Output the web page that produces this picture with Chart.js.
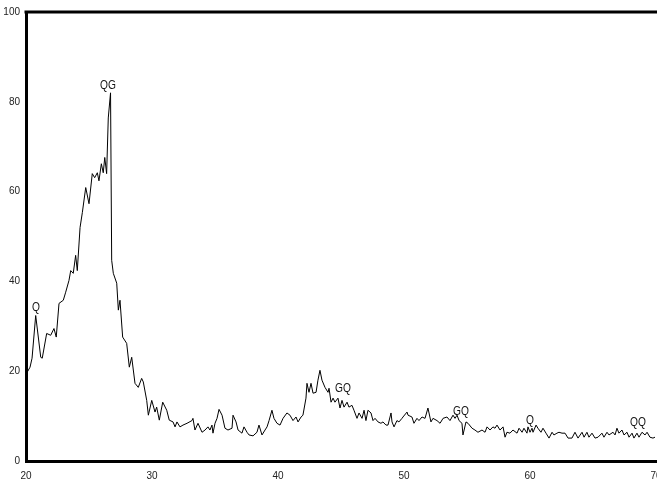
<!DOCTYPE html>
<html>
<head>
<meta charset="utf-8">
<script src="https://cdn.jsdelivr.net/npm/chart.js@4"></script>
<style>
    html, body { margin: 0; padding: 0; background: #fff; overflow: hidden; }
    #wrap { width: 672px; height: 481px; }
</style>
</head>
<body>
<div id="wrap"><canvas id="xrdChart" width="672" height="481"></canvas></div>
<script>
// 2-theta (deg) and intensity
const twoTheta = [
    20.06, 20.32, 20.48, 20.77, 21.17, 21.29, 21.64, 21.96, 22.22, 22.40,
    22.62, 22.96, 23.15, 23.41, 23.55, 23.75, 23.94, 24.07, 24.29, 24.47,
    24.74, 25.00, 25.26, 25.45, 25.66, 25.79, 25.98, 26.13, 26.25, 26.40,
    26.53, 26.71, 26.80, 26.93, 27.20, 27.33, 27.46, 27.67, 27.99, 28.20,
    28.39, 28.65, 28.91, 29.18, 29.31, 29.58, 29.71, 29.98, 30.24, 30.37,
    30.58, 30.85, 31.17, 31.37, 31.67, 31.83, 31.98, 32.22, 32.46, 32.78,
    33.17, 33.25, 33.41, 33.65, 33.97, 34.21, 34.44, 34.60, 34.76, 34.84,
    35.00, 35.16, 35.32, 35.56, 35.79, 36.03, 36.35, 36.43, 36.67, 36.83,
    37.14, 37.30, 37.54, 37.70, 38.02, 38.33, 38.49, 38.73, 38.97, 39.13,
    39.29, 39.52, 39.68, 39.92, 40.16, 40.40, 40.71, 40.95, 41.19, 41.43,
    41.59, 41.83, 41.98, 42.22, 42.30, 42.46, 42.62, 42.78, 43.02, 43.17,
    43.33, 43.49, 43.73, 43.97, 44.05, 44.21, 44.37, 44.52, 44.76, 44.92,
    45.08, 45.24, 45.48, 45.63, 45.87, 46.03, 46.27, 46.43, 46.67, 46.83,
    46.98, 47.14, 47.38, 47.54, 47.70, 47.94, 48.17, 48.33, 48.57, 48.73,
    48.97, 49.05, 49.21, 49.44, 49.60, 49.84, 49.92, 50.24, 50.32, 50.63,
    50.79, 51.03, 51.19, 51.43, 51.67, 51.90, 52.14, 52.30, 52.62, 52.86,
    53.10, 53.41, 53.65, 53.89, 54.05, 54.21, 54.37, 54.60, 54.68, 54.92,
    55.08, 55.40, 55.63, 55.87, 56.19, 56.43, 56.59, 56.83, 57.06, 57.22,
    57.38, 57.62, 57.86, 58.02, 58.17, 58.41, 58.65, 58.97, 59.13, 59.37,
    59.52, 59.76, 59.84, 60.00, 60.16, 60.24, 60.48, 60.63, 60.87, 61.03,
    61.27, 61.51, 61.75, 61.90, 62.14, 62.30, 62.54, 62.78, 63.02, 63.33,
    63.57, 63.81, 64.13, 64.29, 64.52, 64.68, 64.92, 65.16, 65.40, 65.71,
    65.87, 66.11, 66.27, 66.59, 66.75, 66.90, 67.06, 67.30, 67.46, 67.70,
    67.86, 68.10, 68.25, 68.49, 68.65, 68.89, 69.13, 69.29, 69.52, 69.76,
    69.92
];
const intensity = [
    19.6, 20.9, 22.9, 32.4, 23.1, 22.9, 28.4, 28.0, 29.5, 27.6,
    35.1, 35.8, 37.6, 40.2, 42.4, 41.8, 45.8, 42.4, 52.0, 55.3,
    60.9, 57.3, 64.0, 63.1, 64.2, 62.4, 66.2, 64.2, 67.6, 64.0,
    76.4, 82.0, 44.7, 41.8, 39.6, 33.6, 35.8, 27.6, 26.2, 20.9,
    23.1, 17.3, 16.4, 18.4, 17.6, 13.5, 10.2, 13.5, 10.9, 12.0,
    9.1, 13.1, 11.3, 9.1, 8.7, 7.6, 8.7, 7.6, 8.0, 8.4,
    9.0, 9.5, 6.9, 8.4, 6.4, 6.9, 7.6, 6.9, 8.0, 6.2,
    8.4, 9.5, 11.5, 10.2, 7.3, 6.9, 7.3, 10.2, 8.7, 6.9,
    6.2, 7.6, 6.4, 5.8, 5.6, 6.4, 8.0, 5.8, 6.9, 7.6,
    9.0, 11.3, 9.5, 8.4, 8.0, 9.5, 10.7, 10.2, 9.0, 9.8,
    8.7, 9.8, 10.2, 14.0, 17.3, 15.3, 17.3, 15.1, 15.3, 18.0,
    20.2, 18.0, 16.4, 15.3, 16.2, 13.1, 14.0, 13.1, 14.0, 11.8,
    13.5, 12.0, 13.1, 12.0, 12.4, 11.3, 9.5, 10.7, 9.5, 11.3,
    9.0, 11.3, 10.7, 9.0, 9.5, 8.7, 8.4, 8.7, 8.0, 8.0,
    10.7, 8.7, 7.6, 9.0, 8.7, 9.5, 9.8, 10.9, 10.2, 9.8,
    8.4, 9.5, 9.0, 9.8, 9.5, 11.8, 8.7, 9.5, 9.0, 8.4,
    9.5, 9.8, 9.0, 10.2, 9.5, 10.2, 9.0, 8.4, 5.8, 8.7,
    8.4, 7.3, 6.9, 6.4, 6.9, 6.4, 7.6, 6.9, 7.6, 7.3,
    8.0, 6.9, 7.6, 5.3, 6.4, 6.2, 6.9, 6.2, 7.3, 6.4,
    7.3, 6.2, 7.6, 6.4, 7.3, 6.4, 8.0, 7.3, 6.4, 7.3,
    6.2, 5.1, 6.4, 5.8, 6.2, 6.4, 6.2, 6.2, 5.1, 5.1,
    6.4, 5.1, 6.4, 5.3, 6.4, 5.3, 6.2, 5.1, 5.3, 6.2,
    5.3, 6.4, 5.8, 6.4, 5.8, 7.3, 6.2, 6.9, 5.8, 6.4,
    5.3, 6.2, 5.1, 6.2, 5.3, 6.4, 5.8, 6.4, 5.3, 5.1,
    5.3
];

// phase labels (Q = quartz, G = graphite) and where they sit
const peakLabels = ['Q', 'QG', 'GQ', 'GQ', 'Q', 'QQ'];
const peakAt = [20.79, 26.5, 45.16, 54.52, 60.0, 68.57];
const peakTop = [32.9, 82.2, 14.7, 9.6, 7.6, 7.1];

const xTicks = [20, 30, 40, 50, 60, 70];
const yTicks = [0, 20, 40, 60, 80, 100];

const tickFont = "'Liberation Sans Narrow', 'Liberation Sans', Arial, sans-serif";

const points = twoTheta.map((t, i) => ({ x: t, y: intensity[i] }));

// thick top edge of the frame and the phase letters
const framePlugin = {
    id: 'frame',
    afterDatasetsDraw(chart) {
        const { ctx, chartArea, scales } = chart;
        ctx.save();
        ctx.strokeStyle = '#000';
        ctx.lineWidth = 3;
        ctx.beginPath();
        ctx.moveTo(chartArea.left - 1.5, chartArea.top);
        ctx.lineTo(chartArea.right + 20, chartArea.top);
        ctx.stroke();

        ctx.fillStyle = '#111';
        ctx.font = "12px " + tickFont;
        ctx.textAlign = 'center';
        ctx.textBaseline = 'bottom';
        peakLabels.forEach((lab, i) => {
            const px = scales.x.getPixelForValue(peakAt[i]);
            const py = scales.y.getPixelForValue(peakTop[i]);
            // slightly condensed, like the narrow face of the original
            ctx.save();
            ctx.translate(px, py);
            ctx.scale(0.85, 1);
            ctx.fillText(lab, 0, 0);
            ctx.restore();
        });
        ctx.restore();
    }
};

const xrdCtx = document.getElementById('xrdChart').getContext('2d');
const xrdChart = new Chart(xrdCtx, {
    type: 'line',
    data: {
        datasets: [{
            data: points,
            borderColor: '#000',
            borderWidth: 1,
            pointRadius: 0,
            tension: 0,
            fill: false
        }]
    },
    options: {
        responsive: false,
        animation: false,
        layout: { padding: { top: 10, left: 0, right: 16, bottom: 0 } },
        plugins: {
            legend: { display: false },
            tooltip: { enabled: false }
        },
        scales: {
            x: {
                type: 'linear',
                min: 20,
                max: 70,
                afterBuildTicks: (scale) => { scale.ticks = xTicks.map(v => ({ value: v })); },
                afterFit: (scale) => { scale.height = 20; },
                grid: { display: false, drawTicks: false },
                border: { display: true, color: '#000', width: 3 },
                ticks: {
                    color: '#222',
                    padding: 9,
                    maxRotation: 0,
                    font: { family: tickFont, size: 10 }
                }
            },
            y: {
                min: 0,
                max: 100,
                afterBuildTicks: (scale) => { scale.ticks = yTicks.map(v => ({ value: v })); },
                afterFit: (scale) => { scale.width = 26; },
                grid: { display: false, drawTicks: false },
                border: { display: true, color: '#000', width: 3 },
                ticks: {
                    color: '#222',
                    padding: 6,
                    font: { family: tickFont, size: 10 }
                }
            }
        }
    },
    plugins: [framePlugin]
});
</script>
</body>
</html>
